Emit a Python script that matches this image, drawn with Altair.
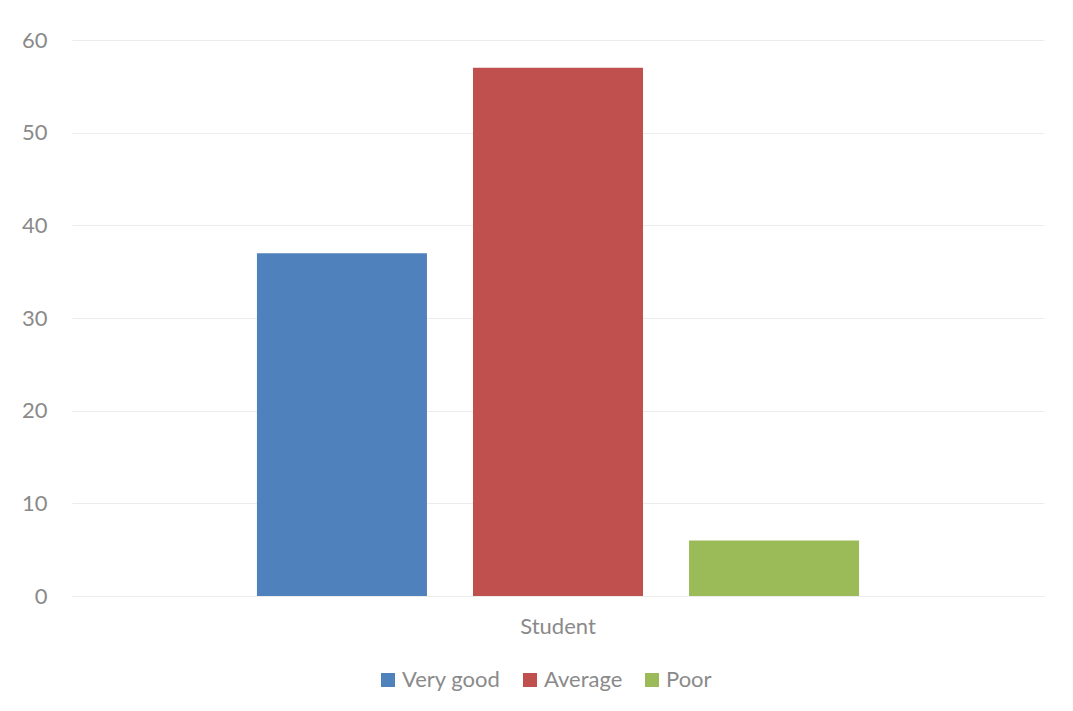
import altair as alt
import pandas as pd

categories = ["Student", "Student", "Student"]
series = ["Very good", "Average", "Poor"]
values = [37, 57, 6]
colors = ["#4F81BD", "#C0504D", "#9BBB59"]
y_ticks = [0, 10, 20, 30, 40, 50, 60]

df = pd.DataFrame({"category": categories, "series": series, "value": values})

FONT = "Lato"
GRAY = "#8a8a8a"
GRID = "#ececec"

chart = alt.Chart(df).mark_bar().encode(
    x=alt.X(
        "category:N",
        title=None,
        scale=alt.Scale(paddingInner=0, paddingOuter=0),
        axis=alt.Axis(
            labelAngle=0, ticks=False, domain=True, domainColor=GRID, domainWidth=1,
            labelPadding=20, labelFontSize=22, labelColor=GRAY, labelFont=FONT, grid=False,
        ),
    ),
    xOffset=alt.XOffset(
        "series:N", sort=series,
        scale=alt.Scale(paddingInner=0.213, paddingOuter=0.856),
    ),
    y=alt.Y(
        "value:Q",
        title=None,
        scale=alt.Scale(domain=[0, 60], nice=False),
        axis=alt.Axis(
            values=y_ticks, ticks=False, domain=False, grid=True, gridColor=GRID, gridWidth=1,
            labelPadding=25, labelFontSize=22, labelColor=GRAY, labelFont=FONT,
        ),
    ),
    color=alt.Color(
        "series:N", sort=series,
        scale=alt.Scale(domain=series, range=colors),
        legend=alt.Legend(
            title=None, orient="none", direction="horizontal", legendX=305, legendY=629,
            symbolType="square", symbolSize=196, symbolStrokeWidth=0,
            labelFontSize=22, labelColor=GRAY, labelFont=FONT,
            columnPadding=18, labelOffset=3,
        ),
    ),
).properties(
    width=972, height=556, autosize="none",
    padding={"left": 64, "top": 32, "right": 21, "bottom": 107},
).configure_view(stroke=None)

chart.save("out.html", embed_options={"renderer": "svg", "actions": False})
